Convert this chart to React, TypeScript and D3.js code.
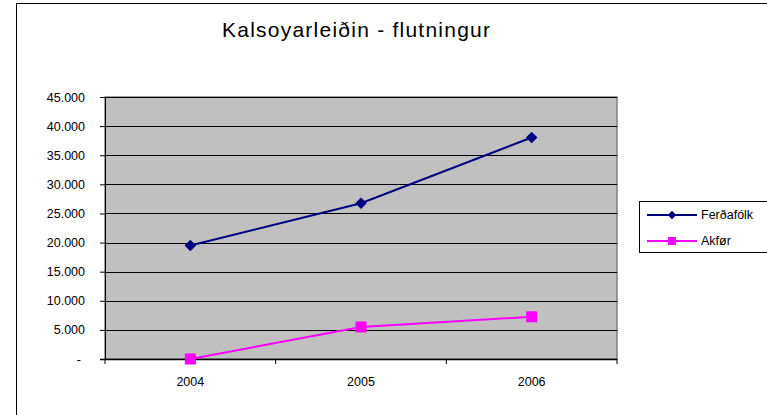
import React, { useEffect, useRef } from "react";
import * as d3 from "d3";

const years = ["2004", "2005", "2006"];
const ferdafolk = [19500, 26750, 38050];
const akfor = [0, 5500, 7250];
const yTicks = [0, 5000, 10000, 15000, 20000, 25000, 30000, 35000, 40000, 45000];

const W = 767;
const H = 415;

const App = () => {
  const svgRef = useRef<SVGSVGElement | null>(null);

  useEffect(() => {
    const svg = d3.select(svgRef.current);
    svg.selectAll("*").remove();

    const font = "Arial, 'Liberation Sans', sans-serif";
    const plot = { left: 105, right: 617, top: 97, bottom: 359 };

    // outer chart frame (runs past the right and bottom edge)
    svg
      .append("rect")
      .attr("x", 16.5)
      .attr("y", 3.5)
      .attr("width", W + 10)
      .attr("height", H + 10)
      .attr("fill", "#fff")
      .attr("stroke", "#000")
      .attr("stroke-width", 1);

    svg
      .append("text")
      .attr("x", 222)
      .attr("y", 37)
      .attr("textLength", 268)
      .attr("lengthAdjust", "spacing")
      .style("font-family", font)
      .style("font-size", "21px")
      .attr("fill", "#000")
      .text("Kalsoyarleiðin - flutningur");

    const x = d3.scaleBand().domain(years).range([plot.left, plot.right]).padding(0);
    const y = d3.scaleLinear().domain([0, 45000]).range([plot.bottom, plot.top]);

    const locale = d3.formatLocale({ decimal: ",", thousands: ".", grouping: [3], currency: ["", ""] });
    const fmt = locale.format(",.0f");

    // plot area
    svg
      .append("rect")
      .attr("x", plot.left)
      .attr("y", plot.top)
      .attr("width", plot.right - plot.left)
      .attr("height", plot.bottom - plot.top)
      .attr("fill", "#C0C0C0")
      .attr("stroke", "#808080")
      .attr("stroke-width", 1.5);

    // gridlines
    svg
      .append("g")
      .selectAll("line")
      .data(yTicks.slice(1))
      .enter()
      .append("line")
      .attr("x1", plot.left)
      .attr("x2", plot.right)
      .attr("y1", (d) => Math.round(y(d)) + 0.5)
      .attr("y2", (d) => Math.round(y(d)) + 0.5)
      .attr("stroke", "#000")
      .attr("stroke-width", 1);

    // y axis
    const yAxis = svg
      .append("g")
      .attr("transform", `translate(${plot.left},0)`)
      .call(
        d3
          .axisLeft(y)
          .tickValues(yTicks)
          .tickSize(5)
          .tickPadding(15)
          .tickFormat((d) => (+d === 0 ? "-" : fmt(+d)))
      );
    yAxis.select(".domain").attr("stroke", "#000");
    yAxis.selectAll(".tick line").attr("stroke", "#000");
    yAxis
      .selectAll("text")
      .style("font-family", font)
      .style("font-size", "12.5px")
      .attr("fill", "#000");
    yAxis.selectAll(".tick").filter((d) => +d === 0).select("text").attr("dx", "-4");

    // x axis
    const xAxis = svg.append("g").attr("transform", `translate(0,${plot.bottom})`);
    xAxis
      .append("line")
      .attr("x1", plot.left - 5)
      .attr("x2", plot.right)
      .attr("y1", 0.5)
      .attr("y2", 0.5)
      .attr("stroke", "#000")
      .attr("stroke-width", 1.5);
    const bounds = [...years.map((d) => x(d) as number), plot.right];
    xAxis
      .selectAll(".xt")
      .data(bounds)
      .enter()
      .append("line")
      .attr("x1", (d) => d)
      .attr("x2", (d) => d)
      .attr("y1", 0)
      .attr("y2", 5)
      .attr("stroke", "#000");
    xAxis
      .selectAll(".xl")
      .data(years)
      .enter()
      .append("text")
      .attr("x", (d) => (x(d) as number) + x.bandwidth() / 2)
      .attr("y", 27)
      .attr("text-anchor", "middle")
      .style("font-family", font)
      .style("font-size", "12.5px")
      .attr("fill", "#000")
      .text((d) => d);

    const cx = (i: number) => (x(years[i]) as number) + x.bandwidth() / 2;
    const line = d3
      .line<number>()
      .x((_, i) => cx(i))
      .y((d) => y(d));

    svg
      .append("path")
      .datum(ferdafolk)
      .attr("d", line)
      .attr("fill", "none")
      .attr("stroke", "#000080")
      .attr("stroke-width", 2);
    svg
      .append("path")
      .datum(akfor)
      .attr("d", line)
      .attr("fill", "none")
      .attr("stroke", "#FF00FF")
      .attr("stroke-width", 2);

    const diamond = d3.symbol().type(d3.symbolDiamond2).size(85);
    const square = d3.symbol().type(d3.symbolSquare).size(121);

    svg
      .selectAll(".dm")
      .data(ferdafolk)
      .enter()
      .append("path")
      .attr("d", diamond)
      .attr("transform", (d, i) => `translate(${cx(i)},${y(d)})`)
      .attr("fill", "#000080");
    svg
      .selectAll(".sq")
      .data(akfor)
      .enter()
      .append("path")
      .attr("d", square)
      .attr("transform", (d, i) => `translate(${cx(i)},${y(d)})`)
      .attr("fill", "#FF00FF");

    // legend
    const lg = svg.append("g");
    lg.append("rect")
      .attr("x", 639.5)
      .attr("y", 201.5)
      .attr("width", 140)
      .attr("height", 51)
      .attr("fill", "#fff")
      .attr("stroke", "#000");
    const items = [
      { name: "Ferðafólk", color: "#000080", sym: d3.symbol().type(d3.symbolDiamond2).size(45) },
      { name: "Akfør", color: "#FF00FF", sym: d3.symbol().type(d3.symbolSquare).size(64) },
    ];
    items.forEach((it, i) => {
      const cy = 215 + i * 26;
      lg.append("line")
        .attr("x1", 647)
        .attr("x2", 697)
        .attr("y1", cy)
        .attr("y2", cy)
        .attr("stroke", it.color)
        .attr("stroke-width", 2);
      lg.append("path")
        .attr("d", it.sym())
        .attr("transform", `translate(672,${cy})`)
        .attr("fill", it.color);
      lg.append("text")
        .attr("x", 701)
        .attr("y", cy)
        .attr("dy", "0.35em")
        .style("font-family", font)
        .style("font-size", "12.5px")
        .attr("fill", "#000")
        .text(it.name);
    });
  }, []);

  return (
    <svg
      ref={svgRef}
      width={W}
      height={H}
      style={{ position: "absolute", left: 0, top: 0, background: "#fff" }}
    />
  );
};

export default App;
